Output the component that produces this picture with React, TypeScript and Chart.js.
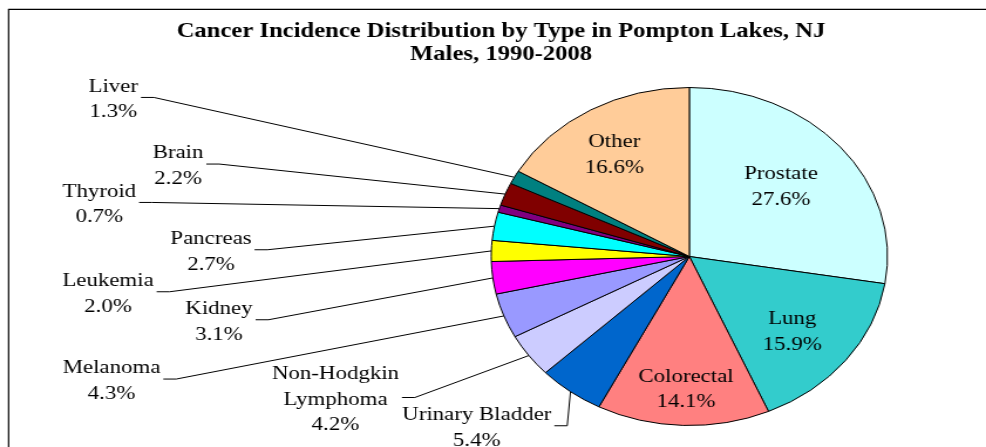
import { useEffect, useRef } from "react";
import { Chart, registerables } from "chart.js";

Chart.register(...registerables);

// ---------- data ----------
const categories = [
  "Prostate",
  "Lung",
  "Colorectal",
  "Urinary Bladder",
  "Non-Hodgkin Lymphoma",
  "Melanoma",
  "Kidney",
  "Leukemia",
  "Pancreas",
  "Thyroid",
  "Brain",
  "Liver",
  "Other",
];
const percentages = [27.6, 15.9, 14.1, 5.4, 4.2, 4.3, 3.1, 2.0, 2.7, 0.7, 2.2, 1.3, 16.6];
const labelNames = [
  ["Prostate"],
  ["Lung"],
  ["Colorectal"],
  ["Urinary Bladder"],
  ["Non-Hodgkin", "Lymphoma"],
  ["Melanoma"],
  ["Kidney"],
  ["Leukemia"],
  ["Pancreas"],
  ["Thyroid"],
  ["Brain"],
  ["Liver"],
  ["Other"],
];
const titleLines = ["Cancer Incidence Distribution by Type in Pompton Lakes, NJ", "Males, 1990-2008"];

// ---------- styles / layout ----------
const sliceColors = [
  "#CCFFFF",
  "#33CCCC",
  "#FF8080",
  "#0066CC",
  "#CCCCFF",
  "#9999FF",
  "#FF00FF",
  "#FFFF00",
  "#00FFFF",
  "#800080",
  "#800000",
  "#008080",
  "#FFCC99",
];
// label anchor (centre x, first-line centre y) in page pixels
const labelX = [781, 792.3, 686, 476.8, 335.5, 111.5, 219, 108, 211, 99.3, 178, 113.3, 614.3];
const labelY = [174.3, 319, 376.7, 415, 374, 368.3, 309, 281, 239, 191.7, 153.3, 86.7, 142.3];
const labelInside = [true, true, true, false, false, false, false, false, false, false, false, false, true];

const CANVAS_W = 841;
const CANVAS_H = 447;
const SX = 986 / CANVAS_W; // horizontal stretch of the original picture
const PIE_CX = 689.35 / SX;
const PIE_CY = 256.5;
const PIE_R = 169;
const PAD_SIZE = 340;
const FONT = '"Liberation Serif", "Times New Roman", serif';
const LABEL_SIZE = 19.5;
const TITLE_SIZE = 21;
const LINE_H = 25.5;

const framePlugin = {
  id: "frame",
  afterDraw(chart: any) {
    const ctx = chart.ctx as CanvasRenderingContext2D;
    ctx.save();
    ctx.strokeStyle = "#000";
    ctx.lineWidth = 1.4;
    ctx.beginPath();
    ctx.moveTo(8 / SX, 9.4);
    ctx.lineTo(CANVAS_W, 9.4);
    ctx.stroke();
    ctx.lineWidth = 1.2;
    ctx.beginPath();
    ctx.moveTo(8.6 / SX, 9.4);
    ctx.lineTo(8.6 / SX, CANVAS_H);
    ctx.stroke();

    ctx.fillStyle = "#000";
    ctx.font = `bold ${TITLE_SIZE}px ${FONT}`;
    ctx.textAlign = "center";
    ctx.textBaseline = "alphabetic";
    ctx.fillText(titleLines[0], 501 / SX, 36.6);
    ctx.fillText(titleLines[1], 501 / SX, 60.4);
    ctx.restore();
  },
};

const labelsPlugin = {
  id: "pieLabels",
  afterDatasetsDraw(chart: any) {
    const ctx = chart.ctx as CanvasRenderingContext2D;
    const meta = chart.getDatasetMeta(0);
    ctx.save();
    ctx.font = `${LABEL_SIZE}px ${FONT}`;
    ctx.fillStyle = "#000";
    ctx.strokeStyle = "#000";
    ctx.lineWidth = 1;
    ctx.textAlign = "center";
    ctx.textBaseline = "middle";
    meta.data.forEach((arc: any, i: number) => {
      const { x, y, startAngle, endAngle, outerRadius } = arc.getProps(
        ["x", "y", "startAngle", "endAngle", "outerRadius"],
        true
      );
      const lines = [...labelNames[i], `${percentages[i].toFixed(1)}%`];
      const cx = labelX[i] / SX;
      const top = labelY[i];
      lines.forEach((t, k) => ctx.fillText(t, cx, top + k * LINE_H));
      if (!labelInside[i]) {
        const mid = (startAngle + endAngle) / 2;
        const px = x + Math.cos(mid) * outerRadius;
        const py = y + Math.sin(mid) * outerRadius;
        const w = Math.max(...lines.map((t) => ctx.measureText(t).width));
        const sx0 = cx + w / 2 + 2.5;
        const sy0 = top + ((lines.length - 1) * LINE_H) / 2 - 2;
        ctx.beginPath();
        ctx.moveTo(sx0, sy0);
        ctx.lineTo(sx0 + 11, sy0);
        ctx.lineTo(px, py);
        ctx.stroke();
      }
    });
    ctx.restore();
  },
};

export default function App() {
  const canvasRef = useRef<HTMLCanvasElement | null>(null);

  useEffect(() => {
    if (!canvasRef.current) return;
    const padL = PIE_CX - PAD_SIZE / 2;
    const padT = PIE_CY - PAD_SIZE / 2;
    const chart = new Chart(canvasRef.current, {
      type: "pie",
      data: {
        labels: categories,
        datasets: [
          {
            data: percentages,
            backgroundColor: sliceColors,
            borderColor: "#000",
            borderWidth: 1,
            radius: PIE_R,
          } as any,
        ],
      },
      options: {
        responsive: false,
        animation: false,
        radius: PIE_R,
        layout: {
          padding: {
            left: padL,
            right: CANVAS_W - padL - PAD_SIZE,
            top: padT,
            bottom: CANVAS_H - padT - PAD_SIZE,
          },
        },
        plugins: {
          legend: { display: false },
          tooltip: { enabled: false },
          title: { display: false },
        },
      } as any,
      plugins: [framePlugin, labelsPlugin],
    });
    return () => chart.destroy();
  }, []);

  return (
    <div style={{ position: "absolute", left: 0, top: 0, width: 986, height: 447, overflow: "hidden", background: "#fff" }}>
      <canvas
        ref={canvasRef}
        width={CANVAS_W}
        height={CANVAS_H}
        style={{
          position: "absolute",
          left: 0,
          top: 0,
          width: CANVAS_W,
          height: CANVAS_H,
          transform: `scaleX(${SX})`,
          transformOrigin: "0 0",
        }}
      />
    </div>
  );
}
